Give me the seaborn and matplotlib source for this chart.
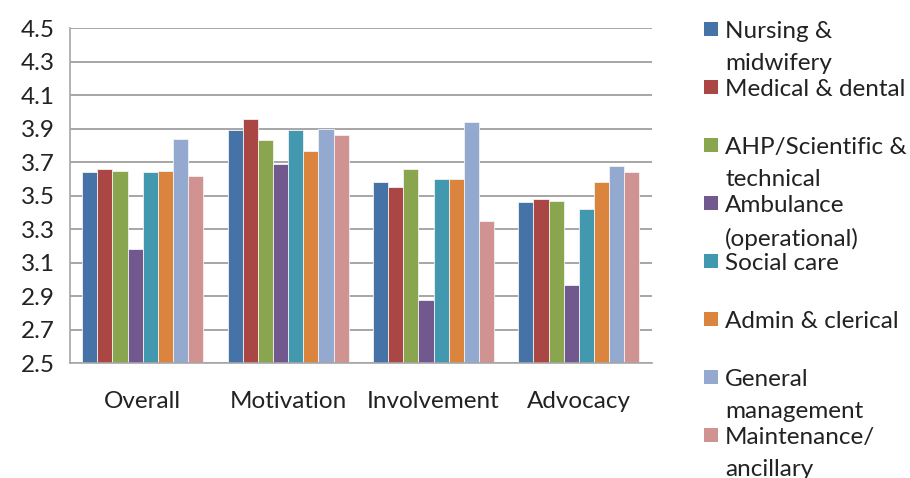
import numpy as np
import matplotlib
matplotlib.use("Agg")
import matplotlib.pyplot as plt
import matplotlib.patches as mpatches
import pandas as pd
import seaborn as sns

#%% Dati
measures = ["Overall", "Motivation", "Involvement", "Advocacy"]
groups = ["Nursing & midwifery", "Medical & dental", "AHP/Scientific & technical",
          "Ambulance (operational)", "Social care", "Admin & clerical",
          "General management", "Maintenance/ ancillary"]
legend_labels = ["Nursing &\nmidwifery", "Medical & dental", "AHP/Scientific &\ntechnical",
                 "Ambulance\n(operational)", "Social care", "Admin & clerical",
                 "General\nmanagement", "Maintenance/\nancillary"]

nursing = [3.64, 3.89, 3.58, 3.46]
medical = [3.66, 3.96, 3.55, 3.48]
ahp = [3.65, 3.83, 3.66, 3.47]
ambulance = [3.18, 3.69, 2.88, 2.97]
social = [3.64, 3.89, 3.60, 3.42]
admin = [3.65, 3.77, 3.60, 3.58]
general = [3.84, 3.90, 3.94, 3.68]
maintenance = [3.62, 3.86, 3.35, 3.64]

colors = ["#4572A7", "#AA4643", "#89A54E", "#71588F",
          "#4198AF", "#DB843D", "#93A9CF", "#D19392"]

#%% Tabella long-form
series = [nursing, medical, ahp, ambulance, social, admin, general, maintenance]
rows = []
for g, vals in zip(groups, series):
    for m, v in zip(measures, vals):
        rows.append({"measure": m, "group": g, "score": v})
df = pd.DataFrame(rows)

#%% Plot
sns.set_style("white")
plt.rcParams["font.family"] = ["Lato", "DejaVu Sans"]
fs = 17.5

fig = plt.figure(figsize=(9.1, 4.78), dpi=100)
ax = fig.add_axes([0.077, 0.24, 0.639, 0.701])

sns.barplot(data=df, x="measure", y="score", hue="group", hue_order=groups,
            palette=colors, saturation=1, width=0.834, gap=0, legend=False,
            edgecolor="#f2f2f2", linewidth=0.6, ax=ax)

ax.set_ylim(2.5, 4.5)
ax.set_xlim(-0.5, 3.5)
ax.set_yticks(np.arange(2.5, 4.51, 0.2))
ax.set_yticklabels([f"{t:.1f}" for t in np.arange(2.5, 4.51, 0.2)], fontsize=fs, color="#222222")
ax.yaxis.grid(True, color="#a6a6a6", linewidth=1.4)
ax.set_axisbelow(True)
ax.set_xlabel("")
ax.set_ylabel("")

ax.tick_params(axis="x", which="major", length=0, labelsize=fs, pad=20, labelcolor="#222222")
ax.set_xticks(np.arange(-0.5, 3.6, 1.0), minor=True)
ax.tick_params(axis="x", which="minor", length=8, width=1.2, color="#a6a6a6", direction="out")
ax.tick_params(axis="y", length=7, width=1.2, color="#a6a6a6", direction="out", pad=4)

for s in ["top", "right"]:
    ax.spines[s].set_visible(False)
for s in ["left", "bottom"]:
    ax.spines[s].set_color("#a6a6a6")
    ax.spines[s].set_linewidth(1.2)

#%% Legenda manuale (stile Excel)
y0 = 478 - 29
step = 58
for i, (lab, c) in enumerate(zip(legend_labels, colors)):
    yc = (y0 - i * step) / 478
    fig.patches.append(mpatches.Rectangle((704 / 910, yc - 7 / 478), 14 / 910, 14 / 478,
                                          transform=fig.transFigure, facecolor=c,
                                          edgecolor="none"))
    fig.text(725 / 910, yc + 8 / 478, lab, fontsize=fs, va="top", ha="left",
             color="#222222", linespacing=1.65)

fig.savefig("out.png", dpi=100, facecolor="white")
